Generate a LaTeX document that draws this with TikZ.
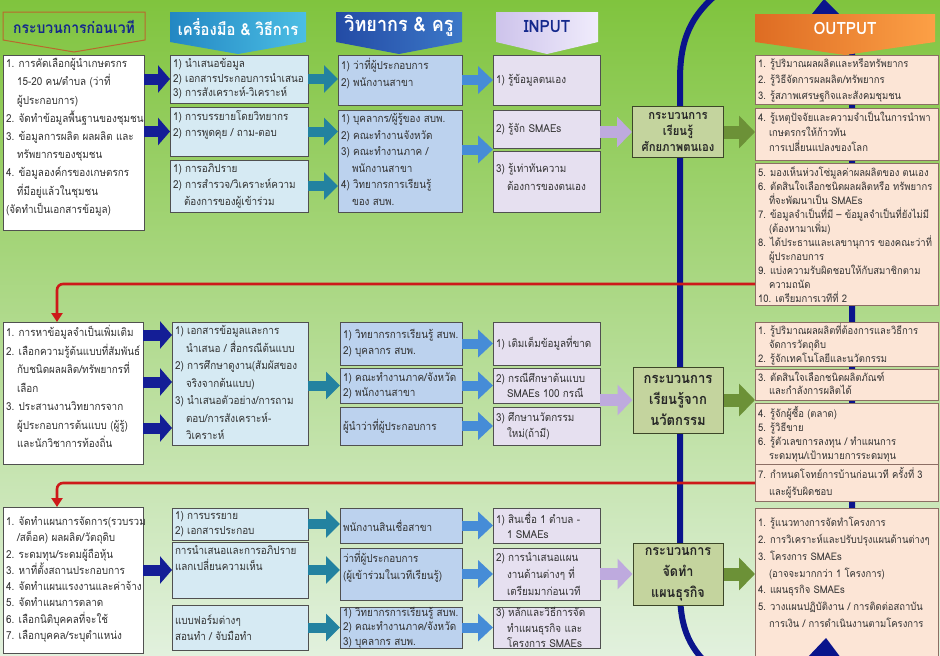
\documentclass[tikz,border=0pt]{standalone}
\usepackage{fontspec}
\setmainfont{Loma}[Script=Thai, FakeStretch=0.9]
\usetikzlibrary{arrows.meta,calc}

\newcommand{\idt}{\hspace*{11pt}}
% box with text at top or centre: style, name, x, y, width, height, pos, text
\newcommand{\blk}[8]{%
  \node[#1, minimum width=#5pt, minimum height=#6pt] (#2) at (#3,#4)
    {\parbox[t][\dimexpr#6pt-7pt\relax][#7]{\dimexpr#5pt-6pt\relax}{\raggedright
      \rightskip=0pt plus 1fil minus 300pt\lineskiplimit=-\maxdimen #8}};}

\begin{document}
\begin{tikzpicture}[%
        % one unit is one pixel of the sheet, y runs downwards
        x=1pt,y=-1pt,
        blkbase/.style={draw=boxline, line width=0.8pt, anchor=north west, inner xsep=3pt, inner ysep=3.5pt,
            outer sep=0pt, text=black!80, font=\fontsize{11}{16.5}\selectfont},
        ls/.style={font=\fontsize{11}{#1}\selectfont},
        lbox/.style={blkbase, fill=white},
        tbox/.style={blkbase, fill=toolcol},
        sbox/.style={blkbase, fill=staffcol},
        ibox/.style={blkbase, fill=inputcol},
        obox/.style={blkbase, fill=outcol, draw=outline, inner ysep=1.5pt, font=\fontsize{10.5}{15.5}\selectfont},
        ols/.style={font=\fontsize{10.5}{#1}\selectfont},
        pbox/.style={draw=procline, line width=1pt, fill=proccol, align=center, inner sep=2pt,
            text=black!85, font=\bfseries\fontsize{12.5}{16}\selectfont},
        hdtext/.style={font=\bfseries\fontsize{16}{18}\selectfont, inner sep=0pt},
        navyarr/.style={draw=navyarrow, line width=11pt, -{Triangle[length=12pt,width=27pt]}},
        tealarr/.style={draw=tealarrow, line width=10pt, -{Triangle[length=14pt,width=27pt]}},
        bluearr/.style={draw=bluearrow, line width=10pt, -{Triangle[length=15pt,width=27pt]}},
        lavarr/.style={draw=lavarrow, line width=12pt, -{Triangle[length=15pt,width=30pt]}},
        olivearr/.style={draw=olivearrow, line width=13pt, -{Triangle[length=16pt,width=32pt]}},
        redline/.style={draw=redcol, line width=2.6pt, rounded corners=6pt, -{Triangle[length=9pt,width=11pt]}},
        loopline/.style={draw=loopcol, line width=6pt}
        ]

        \definecolor{bgtop}{RGB}{128, 196, 62}
        \definecolor{bgmid}{RGB}{192, 228, 150}
        \definecolor{bgbot}{RGB}{226, 241, 222}
        \definecolor{boxline}{RGB}{80, 80, 80}
        \definecolor{toolcol}{RGB}{214, 234, 243}
        \definecolor{staffcol}{RGB}{188, 210, 238}
        \definecolor{inputcol}{RGB}{230, 224, 240}
        \definecolor{outcol}{RGB}{252, 229, 214}
        \definecolor{outline}{RGB}{140, 110, 100}
        \definecolor{proccol}{RGB}{196, 212, 158}
        \definecolor{procline}{RGB}{60, 70, 40}
        \definecolor{navyarrow}{RGB}{20, 30, 150}
        \definecolor{tealarrow}{RGB}{35, 130, 160}
        \definecolor{bluearrow}{RGB}{70, 140, 215}
        \definecolor{lavarrow}{RGB}{190, 170, 222}
        \definecolor{olivearrow}{RGB}{108, 145, 55}
        \definecolor{redcol}{RGB}{205, 25, 25}
        \definecolor{loopcol}{RGB}{10, 20, 140}
        \definecolor{hbrown}{RGB}{185, 105, 45}
        \definecolor{htext}{RGB}{20, 40, 140}

        \useasboundingbox (0,0) rectangle (940,656);
        \clip (0,0) rectangle (940,656);

        % paint background
        \shade[top color=bgtop, middle color=bgmid, bottom color=bgbot] (0,0) rectangle (940,656);

        % draw big loop
        \draw[loopline] (722,-10) .. controls (690,15) and (680,40) .. (680,80) -- (680,590)
            .. controls (680,630) and (690,650) .. (716,672);
        \draw[loopline] (852,660) -- (852,45) .. controls (852,34) and (826,40) .. (826,16);
        \fill[loopcol] (808,19) -- (824,-1) -- (842,17) -- cycle;  % loop head at the top

        % headers
        \draw[hbrown, line width=1pt] (3,12) -- (145,12) -- (145,40) -- (74,52) -- (3,40) -- cycle;
        \node[hdtext, text=htext, font=\bfseries\fontsize{15.5}{18}\selectfont] (hd1) at (74,27) {กระบวนการก่อนเวที};
        \shade[left color={rgb,255:red,35;green,135;blue,195}, right color={rgb,255:red,75;green,190;blue,228}]
            (170,12) -- (306,12) -- (306,42) -- (238,54) -- (170,42) -- cycle;
        \node[hdtext, text=white, font=\bfseries\fontsize{16.5}{18}\selectfont] (hd2) at (238,27) {เครื่องมือ \& วิธีการ};
        \shade[left color={rgb,255:red,35;green,75;blue,165}, right color={rgb,255:red,60;green,120;blue,200}]
            (336,12) -- (462,12) -- (462,42) -- (399,54) -- (336,42) -- cycle;
        \node[hdtext, text=white, font=\bfseries\fontsize{20}{22}\selectfont] (hd3) at (399,26) {วิทยากร \& ครู};
        \shade[left color={rgb,255:red,205;green,195;blue,235}, right color={rgb,255:red,240;green,236;blue,252}]
            (496,12) -- (598,12) -- (598,42) -- (547,54) -- (496,42) -- cycle;
        \node[hdtext, text=htext, font=\bfseries\fontsize{17}{19}\selectfont] (hd4) at (547,27) {INPUT};
        \shade[left color={rgb,255:red,222;green,108;blue,35}, right color={rgb,255:red,252;green,160;blue,70}]
            (755,14) -- (935,14) -- (935,42) -- (845,55) -- (755,42) -- cycle;
        \node[hdtext, text=white, font=\bfseries\fontsize{17}{19}\selectfont] (hd5) at (845,28) {OUTPUT};

        % first meeting
        \blk{lbox, ls=18.2}{s1l}{3}{55}{141}{175}{t}{1. การคัดเลือกผู้นำเกษตรกร\\\idt 15-20 คน/ตำบล (ว่าที่\\\idt ผู้ประกอบการ)\\2. จัดทำข้อมูลพื้นฐานของชุมชน\\3. ข้อมูลการผลิต ผลผลิต และ\\\idt ทรัพยากรของชุมชน\\4. ข้อมูลองค์กรของเกษตรกร\\\idt ที่มีอยู่แล้วในชุมชน\\(จัดทำเป็นเอกสารข้อมูล)}
        \blk{tbox, ls=14.5}{s1ta}{170}{55}{138}{48}{t}{1) นำเสนอข้อมูล\\2) เอกสารประกอบการนำเสนอ\\3) การสังเคราะห์-วิเคราะห์}
        \blk{tbox}{s1tb}{170}{107}{138}{49}{t}{1) การบรรยายโดยวิทยากร\\2) การพูดคุย / ถาม-ตอบ}
        \blk{tbox}{s1tc}{170}{160}{138}{52}{t}{1) การอภิปราย\\2) การสำรวจ/วิเคราะห์ความ\\\idt ต้องการของผู้เข้าร่วม}
        \blk{sbox, ls=17}{s1sa}{338}{55}{124}{50}{t}{1) ว่าที่ผู้ประกอบการ\\2) พนักงานสาขา}
        \blk{sbox}{s1sb}{338}{110}{124}{102}{t}{1) บุคลากร/ผู้รู้ของ สบพ.\\2) คณะทำงานจังหวัด\\3) คณะทำงานภาค /\\\idt พนักงานสาขา\\4) วิทยากรการเรียนรู้\\\idt ของ สบพ.}
        \blk{ibox}{s1ia}{493}{55}{107}{50}{c}{1) รู้ข้อมูลตนเอง}
        \blk{ibox}{s1ib}{493}{110}{107}{38}{c}{2) รู้จัก SMAEs}
        \blk{ibox, ls=18}{s1ic}{493}{151}{107}{61}{t}{\vspace*{9pt}3) รู้เท่าทันความ\\\idt ต้องการของตนเอง}
        \node[pbox, minimum width=91pt, minimum height=51pt] (s1p) at (678,132) {กระบวนการ\\เรียนรู้\\ศักยภาพตนเอง};
        \blk{obox, ols=16}{s1oa}{755}{55}{183}{49}{t}{1. รู้ปริมาณผลผลิตและหรือทรัพยากร\\2. รู้วิธีจัดการผลผลิต/ทรัพยากร\\3. รู้สภาพเศรษฐกิจและสังคมชุมชน}
        \blk{obox, ols=15}{s1ob}{755}{108}{183}{52}{t}{4. รู้เหตุปัจจัยและความจำเป็นในการนำพา\\\idt เกษตรกรให้ก้าวทัน\\\idt การเปลี่ยนแปลงของโลก}
        \blk{obox, ols=14}{s1oc}{755}{163}{183}{142}{t}{5. มองเห็นห่วงโซ่มูลค่าผลผลิตของ ตนเอง\\6. ตัดสินใจเลือกชนิดผลผลิตหรือ ทรัพยากร\\\idt ที่จะพัฒนาเป็น SMAEs\\7. ข้อมูลจำเป็นที่มี – ข้อมูลจำเป็นที่ยังไม่มี\\\idt (ต้องหามาเพิ่ม)\\8. ได้ประธานและเลขานุการ ของคณะว่าที่\\\idt ผู้ประกอบการ\\9. แบ่งความรับผิดชอบให้กับสมาชิกตาม\\\idt ความถนัด\\10. เตรียมการเวทีที่ 2}

        \coordinate (s1j) at ($(s1ib.south west)!0.5!(s1ic.north west)$);  % between input 2 and 3
        \draw[navyarr] (s1ta.west -| s1l.east) -- (s1ta.west);
        \draw[navyarr] (s1tb.west -| s1l.east) -- (s1tb.west);
        \draw[tealarr] (s1ta.east) -- (s1ta.east -| s1sa.west);
        \draw[tealarr] (s1tb.east) -- (s1tb.east -| s1sb.west);
        \draw[tealarr] (s1tc.east) -- (s1tc.east -| s1sb.west);
        \draw[bluearr] (s1sa.east) -- (s1sa.east -| s1ia.west);
        \draw[bluearr] (s1j -| s1sb.east) -- (s1j);
        \draw[lavarr] (s1p.west -| s1ib.east) -- (s1p.west);
        \draw[olivearr] (s1p.east) -- (s1p.east -| s1ob.west);

        % second meeting
        \blk{lbox, ls=18.5}{s2l}{3}{322}{140}{142}{t}{1. การหาข้อมูลจำเป็นเพิ่มเติม\\2. เลือกความรู้ต้นแบบที่สัมพันธ์\\\idt กับชนิดผลผลิต/ทรัพยากรที่\\\idt เลือก\\3. ประสานงานวิทยากรจาก\\\idt ผู้ประกอบการต้นแบบ (ผู้รู้)\\\idt และนักวิชาการท้องถิ่น}
        \blk{tbox, ls=17.5}{s2t}{172}{322}{136}{123}{t}{1) เอกสารข้อมูลและการ\\\idt นำเสนอ / สื่อกรณีต้นแบบ\\2) การศึกษาดูงาน(สัมผัสของ\\\idt จริงจากต้นแบบ)\\3) นำเสนอตัวอย่าง/การถาม\\\idt ตอบ/การสังเคราะห์-\\\idt วิเคราะห์}
        \blk{sbox}{s2sa}{340}{322}{122}{43}{c}{1) วิทยากรการเรียนรู้ สบพ.\\2) บุคลากร สบพ.}
        \blk{sbox, ls=15}{s2sb}{340}{368}{122}{35}{c}{1) คณะทำงานภาค/จังหวัด\\2) พนักงานสาขา}
        \blk{sbox}{s2sc}{340}{407}{122}{38}{c}{ผู้นำว่าที่ผู้ประกอบการ}
        \blk{ibox}{s2ia}{493}{322}{107}{43}{c}{1) เติมเต็มข้อมูลที่ขาด}
        \blk{ibox, ls=15}{s2ib}{493}{368}{107}{35}{c}{2) กรณีศึกษาต้นแบบ\\\idt SMAEs 100 กรณี}
        \blk{ibox, ls=15.5}{s2ic}{493}{407}{107}{38}{c}{3) ศึกษานวัตกรรม\\\idt ใหม่(ถ้ามี)}
        \node[pbox, minimum width=90pt, minimum height=66pt, font=\bfseries\fontsize{14.5}{21}\selectfont] (s2p) at (678,400) {กระบวนการ\\เรียนรู้จาก\\นวัตกรรม};
        \blk{obox, ols=13.8}{s2oa}{755}{322}{183}{44}{t}{\vspace*{-1.5pt}1. รู้ปริมาณผลผลิตที่ต้องการและวิธีการ\\\idt จัดการวัตถุดิบ\\2. รู้จักเทคโนโลยีและนวัตกรรม}
        \blk{obox, ols=13}{s2ob}{755}{369}{183}{31}{t}{3. ตัดสินใจเลือกชนิดผลิตภัณฑ์\\\idt และกำลังการผลิตได้}
        \blk{obox, ols=14}{s2oc}{755}{403}{183}{61}{t}{4. รู้จักผู้ซื้อ (ตลาด)\\5. รู้วิธีขาย\\6. รู้ตัวเลขการลงทุน / ทำแผนการ\\\idt ระดมทุน/เป้าหมายการระดมทุน}
        \blk{obox, ols=16.5}{s2od}{755}{464}{183}{37}{t}{7. กำหนดโจทย์การบ้านก่อนเวที ครั้งที่ 3\\\idt และผู้รับผิดชอบ}

        \draw[navyarr] ($(s2l.north east)+(0,13)$) -- ($(s2t.north west)+(0,13)$);
        \draw[navyarr] ($(s2l.north east)+(0,60)$) -- ($(s2t.north west)+(0,60)$);
        \draw[navyarr] ($(s2l.north east)+(0,106)$) -- ($(s2t.north west)+(0,106)$);
        \draw[tealarr] (s2sb.west -| s2t.east) -- (s2sb.west);
        \draw[bluearr] (s2sa.east) -- (s2sa.east -| s2ia.west);
        \draw[bluearr] (s2sb.east) -- (s2sb.east -| s2ib.west);
        \draw[bluearr] (s2sc.east) -- (s2sc.east -| s2ic.west);
        \draw[lavarr] (s2p.west -| s2ib.east) -- (s2p.west);
        \draw[olivearr] (s2p.east) -- (s2p.east -| s2ob.west);

        % third meeting
        \blk{lbox, ls=16.3}{s3l}{3}{507}{140}{146}{t}{\vspace*{6pt}1. จัดทำแผนการจัดการ(รวบรวม\\\idt /สต็อค) ผลผลิต/วัตถุดิบ\\2. ระดมทุน/ระดมผู้ถือหุ้น\\3. หาที่ตั้งสถานประกอบการ\\4. จัดทำแผนแรงงานและค่าจ้าง\\5. จัดทำแผนการตลาด\\6. เลือกนิติบุคคลที่จะใช้\\7. เลือกบุคคล/ระบุตำแหน่ง}
        \blk{tbox, ls=14.5}{s3ta}{172}{508}{136}{32}{t}{1) การบรรยาย\\2) เอกสารประกอบ}
        \blk{tbox, ls=16}{s3tb}{172}{542}{136}{56}{t}{การนำเสนอและการอภิปราย\\แลกเปลี่ยนความเห็น}
        \blk{tbox, ls=16}{s3tc}{172}{605}{136}{45}{c}{แบบฟอร์มต่างๆ\\สอนทำ / จับมือทำ}
        \blk{sbox}{s3sa}{340}{508}{122}{35}{c}{พนักงานสินเชื่อสาขา}
        \blk{sbox}{s3sb}{340}{548}{122}{52}{t}{ว่าที่ผู้ประกอบการ\\(ผู้เข้าร่วมในเวทีเรียนรู้)}
        \blk{sbox, ls=14.5}{s3sc}{340}{607}{122}{41}{c}{1) วิทยากรการเรียนรู้ สบพ.\\2) คณะทำงานภาค/จังหวัด\\3) บุคลากร สบพ.}
        \blk{ibox, ls=15}{s3ia}{493}{508}{107}{35}{c}{1) สินเชื่อ 1 ตำบล -\\\idt 1 SMAEs}
        \blk{ibox, ls=17}{s3ib}{493}{548}{107}{52}{c}{2) การนำเสนอแผน\\\idt งานด้านต่างๆ ที่\\\idt เตรียมมาก่อนเวที}
        \blk{ibox, ls=15.5}{s3ic}{493}{607}{107}{41}{c}{3) หลักและวิธีการจัด\\\idt ทำแผนธุรกิจ และ\\\idt โครงการ SMAEs}
        \node[pbox, minimum width=90pt, minimum height=62pt, font=\bfseries\fontsize{14}{21}\selectfont] (s3p) at (678,574) {กระบวนการ\\จัดทำ\\แผนธุรกิจ};
        \blk{obox, ols=16.7}{s3oa}{755}{508}{183}{160}{t}{\vspace*{6pt}1. รู้แนวทางการจัดทำโครงการ\\2. การวิเคราะห์และปรับปรุงแผนด้านต่างๆ\\3. โครงการ SMAEs\\\idt (อาจจะมากกว่า 1 โครงการ)\\4. แผนธุรกิจ SMAEs\\5. วางแผนปฏิบัติงาน / การติดต่อสถาบัน\\\idt การเงิน / การดำเนินงานตามโครงการ}

        \draw[navyarr] (s3tb.west -| s3l.east) -- (s3tb.west);
        \draw[tealarr] (s3ta.east) -- (s3ta.east -| s3sa.west);
        \draw[tealarr] (s3tb.east) -- (s3tb.east -| s3sb.west);
        \draw[tealarr] (s3tc.east) -- (s3tc.east -| s3sc.west);
        \draw[bluearr] (s3sa.east) -- (s3sa.east -| s3ia.west);
        \draw[bluearr] (s3sb.east) -- (s3sb.east -| s3ib.west);
        \draw[bluearr] (s3sc.east) -- (s3sc.east -| s3ic.west);
        \draw[lavarr] (s3p.west -| s3ib.east) -- (s3p.west);
        \draw[olivearr] (s3p.east) -- (s3p.east -| s3oa.west);
        \fill[loopcol] (807,658) -- (826,638) -- (841,658) -- cycle;  % loop head at the bottom

        % go to next meeting
        \coordinate (r1) at (57,284);
        \coordinate (r2) at (57,483);
        \draw[redline] (s1oc.west |- r1) -- (r1) -- (s2l.north -| r1);
        \draw[redline] (s2od.west |- r2) -- (r2) -- (s3l.north -| r2);

\end{tikzpicture}
\end{document}
